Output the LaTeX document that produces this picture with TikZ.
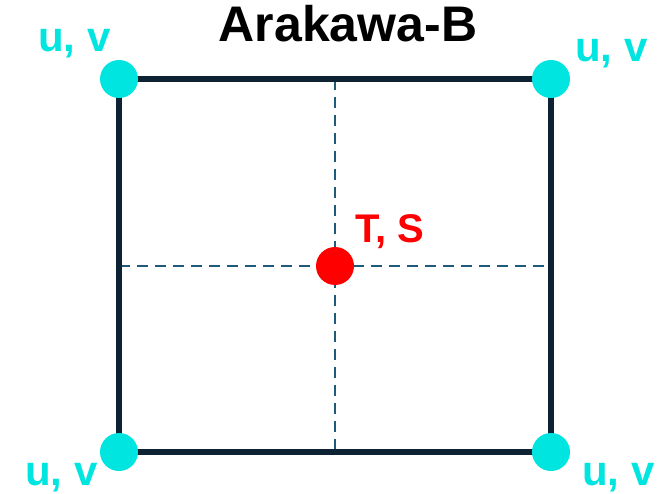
\documentclass[tikz,border=0pt]{standalone}
\usepackage{fontspec}
\setmainfont{Liberation Sans}
\definecolor{uvcyan}{HTML}{00E5E0}
\definecolor{tsred}{HTML}{FF0000}
\definecolor{frame}{HTML}{0D2233}
\definecolor{dashc}{HTML}{1F5A7A}
\begin{document}
\begin{tikzpicture}[x=1pt,y=-1pt,
  framebox/.style={draw=frame,line width=5.5pt},
  gridline/.style={draw=dashc,line width=2.5pt,dash pattern=on 11pt off 7pt},
  uvdot/.style={circle,fill=uvcyan,inner sep=0pt,minimum size=38pt},
  tsdot/.style={circle,fill=tsred,inner sep=0pt,minimum size=38pt},
  uvlabel/.style={text=uvcyan,font=\fontsize{42}{42}\selectfont\bfseries,inner sep=0pt,anchor=base west},
  tslabel/.style={text=tsred,font=\fontsize{40}{40}\selectfont\bfseries,inner sep=0pt,anchor=base west},
  titlelabel/.style={text=black,font=\fontsize{50}{50}\selectfont\bfseries,inner sep=0pt,anchor=base}]
\useasboundingbox (0,0) rectangle (669,494);
\coordinate (tl) at (119,79);
\coordinate (tr) at (551,79);
\coordinate (br) at (551,452);
\coordinate (bl) at (119,452);
\coordinate (tm) at (335,79);
\coordinate (bm) at (335,452);
\coordinate (lm) at (119,266);
\coordinate (rm) at (551,266);
\draw[gridline] (tm) -- (bm);
\draw[gridline] (lm) -- (rm);
\draw[framebox] (tl) -- (tr) -- (br) -- (bl) -- cycle;
\node[uvdot] (dtl) at (tl) {};
\node[uvdot] (dtr) at (tr) {};
\node[uvdot] (dbr) at (br) {};
\node[uvdot] (dbl) at (bl) {};
\node[tsdot] (dc) at (335,266) {};
\node[titlelabel] (title) at (348,42) {Arakawa-B};
\node[uvlabel] (ltl) at (38,52) {u, v};
\node[uvlabel] (ltr) at (575,62) {u, v};
\node[uvlabel] (lbl) at (25,485) {u, v};
\node[uvlabel] (lbr) at (582,485) {u, v};
\node[tslabel] (lts) at (355,243) {T, S};
\end{tikzpicture}
\end{document}
